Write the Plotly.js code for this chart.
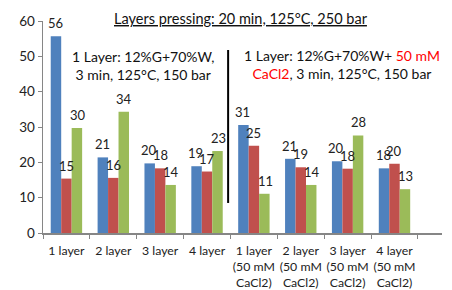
<!DOCTYPE html>
<html><head><meta charset="utf-8">
<script src="https://cdn.plot.ly/plotly-3.0.1.min.js"></script>
<style>html,body{margin:0;padding:0;background:#fff}#c{width:452px;height:290px}</style>
</head><body><div id="c"></div>
<script>
var categories = ["1 layer","2 layer","3 layer","4 layer",
  "1 layer<br>(50 mM<br>CaCl2)","2 layer<br>(50 mM<br>CaCl2)","3 layer<br>(50 mM<br>CaCl2)","4 layer<br>(50 mM<br>CaCl2)"];
var blueValues  = [55.7, 21.4, 19.7, 18.9, 30.6, 21.0, 20.3, 18.3];
var redValues   = [15.4, 15.6, 18.3, 17.4, 24.7, 18.6, 18.2, 19.6];
var greenValues = [29.7, 34.3, 13.6, 23.2, 11.1, 13.6, 27.6, 12.4];
var blueLabels  = ["56","21","20","19","31","21","20","18"];
var redLabels   = ["15","16","18","17","25","19","18","20"];
var greenLabels = ["30","34","14","23","11","14","28","13"];

var FONT = "Lato, 'Open Sans', sans-serif";
var colors = ["#4F81BD","#C0504D","#9BBB59"];
var series = [[blueValues,blueLabels],[redValues,redLabels],[greenValues,greenLabels]];
var data = series.map(function(s,i){
  return {type:"bar", x:categories, y:s[0], marker:{color:colors[i]}, hoverinfo:"none"};
});
var BARPX = 11.15;
var labelAnns = [];
series.forEach(function(s,i){
  s[0].forEach(function(v,j){
    labelAnns.push({xref:"x", yref:"y", x:categories[j], y:v, xshift:(i-1)*BARPX, yshift:13,
      xanchor:"center", yanchor:"middle", showarrow:false, text:s[1][j],
      font:{family:FONT,size:13,color:"#222"}});
  });
});
var layout = {
  width:452, height:290, margin:{l:43,r:10,t:21,b:57},
  paper_bgcolor:"#fff", plot_bgcolor:"#fff",
  showlegend:false, barmode:"group", bargap:0.33, bargroupgap:0,
  font:{family:FONT,size:13,color:"#222"},
  xaxis:{type:"category", showline:true, linecolor:"#868686", linewidth:1.5,
    ticks:"outside", tickson:"boundaries", ticklen:4, tickcolor:"#868686", ticklabelstandoff:6,
    showgrid:false, tickfont:{family:FONT,size:12.3,color:"#222"}, tickangle:0, automargin:false},
  yaxis:{range:[0,60], tickvals:[0,10,20,30,40,50,60], showline:true, linecolor:"#868686", linewidth:1.5,
    ticks:"outside", ticklen:4, tickcolor:"#868686", showgrid:false, zeroline:false,
    tickfont:{family:FONT,size:13.5,color:"#222"}, automargin:false},
  annotations:[
    {xref:"paper", yref:"paper", x:0.497, y:1.0, yanchor:"middle", yshift:3, xanchor:"center", showarrow:false,
     text:"<u>Layers pressing: 20 min, 125°C, 250 bar</u>", font:{family:FONT,size:14.5,color:"#111"}},
    {xref:"x", yref:"y", x:1.63, y:47.3, xanchor:"center", yanchor:"middle", showarrow:false,
     text:"1 Layer: 12%G+70%W,<br>3 min, 125°C, 150 bar", font:{family:FONT,size:14,color:"#111"}},
    {xref:"x", yref:"y", x:5.88, y:47.6, xanchor:"center", yanchor:"middle", showarrow:false,
     text:"1 Layer: 12%G+70%W+ <span style='color:#FF0000'>50 mM</span><br><span style='color:#FF0000'>CaCl2</span>, 3 min, 125°C, 150 bar",
     font:{family:FONT,size:14,color:"#111"}}
  ].concat(labelAnns),
  shapes:[{type:"line", xref:"x", yref:"y", x0:3.45, x1:3.45, y0:8.5, y1:51.8, line:{color:"#000",width:2}}]
};
Plotly.newPlot("c", data, layout, {staticPlot:true, displayModeBar:false});
</script></body></html>
